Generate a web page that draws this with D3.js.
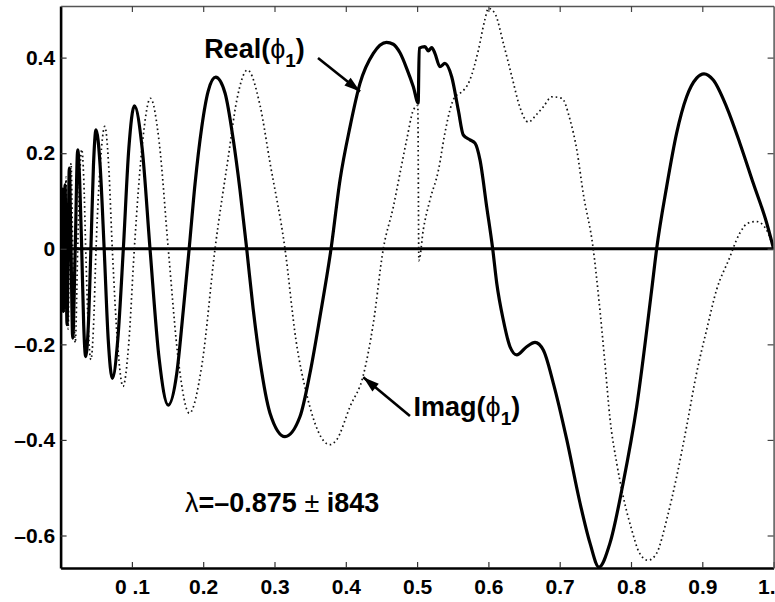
<!DOCTYPE html>
<html><head><meta charset="utf-8">
<script src="https://cdn.jsdelivr.net/npm/d3@7"></script>
<style>
body{margin:0;background:#fff}
svg{display:block;background:#fff}
text{font-family:"Liberation Sans",Arial,Helvetica,sans-serif}
</style>
</head><body>
<svg id="chart" width="775" height="602"></svg>
<script>
// ---- data ----
const realX = [0.0000,0.0005,0.0009,0.0013,0.0018,0.0024,0.0031,0.0038,0.0050,0.0062,0.0076,0.0090,0.0106,0.0122,0.0146,0.0170,0.0205,0.0240,0.0268,0.0296,0.0324,0.0352,0.0389,0.0425,0.0461,0.0497,0.0554,0.0611,0.0668,0.0725,0.0802,0.0880,0.0957,0.1034,0.1144,0.1254,0.1382,0.1510,0.1630,0.1720,0.1803,0.1885,0.1980,0.2070,0.2175,0.2306,0.2422,0.2516,0.2610,0.2700,0.2797,0.2937,0.3147,0.3358,0.3498,0.3638,0.3793,0.3919,0.4059,0.4199,0.4386,0.4570,0.4666,0.4760,0.4860,0.4947,0.5015,0.5030,0.5110,0.5157,0.5205,0.5250,0.5320,0.5390,0.5485,0.5578,0.5648,0.5742,0.5812,0.5882,0.5976,0.6060,0.6117,0.6209,0.6303,0.6397,0.6537,0.6654,0.6770,0.6910,0.7100,0.7285,0.7425,0.7550,0.7705,0.7890,0.8080,0.8290,0.8360,0.8500,0.8640,0.8780,0.8920,0.9024,0.9154,0.9340,0.9527,0.9715,0.9903,1.0000];
const realY = [-0.04,0.11,0,-0.12,0,0.125,0,-0.131,0,0.134,0,-0.159,0,0.169,0,-0.187,0,0.207,0.14,0,-0.16,-0.2255,-0.16,0,0.175,0.249,0.175,0,-0.19,-0.271,-0.19,0,0.21,0.299,0.21,0,-0.23,-0.327,-0.26,-0.13,0,0.135,0.255,0.330,0.359,0.326,0.228,0.123,0,-0.125,-0.235,-0.344,-0.393,-0.351,-0.26,-0.142,0,0.144,0.255,0.346,0.409,0.432,0.428,0.41,0.375,0.339,0.305,0.42,0.423,0.414,0.421,0.409,0.381,0.388,0.36,0.29,0.238,0.228,0.221,0.186,0.088,0,-0.072,-0.149,-0.205,-0.222,-0.205,-0.196,-0.212,-0.281,-0.40,-0.532,-0.616,-0.666,-0.616,-0.49,-0.33,-0.086,0,0.13,0.242,0.318,0.357,0.366,0.353,0.297,0.221,0.137,0.054,0];

const imagX = [0.0000,0.0005,0.0009,0.0013,0.0018,0.0024,0.0031,0.0038,0.0050,0.0062,0.0076,0.0090,0.0106,0.0122,0.0146,0.0170,0.0205,0.0240,0.0268,0.0296,0.0324,0.0352,0.0388,0.0425,0.0461,0.0497,0.0558,0.0620,0.0672,0.0725,0.0800,0.0875,0.0955,0.1034,0.1147,0.1260,0.1385,0.1510,0.1657,0.1805,0.1985,0.2166,0.2350,0.2470,0.2620,0.2797,0.2937,0.3147,0.3300,0.3460,0.3775,0.3870,0.4060,0.4245,0.4386,0.4526,0.4667,0.4760,0.4854,0.4947,0.5010,0.5025,0.5087,0.5180,0.5300,0.5390,0.5460,0.5530,0.5600,0.5740,0.5860,0.5950,0.6000,0.6090,0.6210,0.6330,0.6440,0.6560,0.6670,0.6770,0.6890,0.7030,0.7145,0.7240,0.7330,0.7470,0.7545,0.7635,0.7705,0.7800,0.7890,0.8010,0.8120,0.8240,0.8360,0.8500,0.8640,0.8780,0.8920,0.9060,0.9200,0.9390,0.9430,0.9527,0.9645,0.9760,0.9900,1.0000];
const imagY = [0.02,0,0.10,0,-0.11,0,0.12,0,-0.135,0,0.15,0,-0.168,0,0.179,0,-0.197,0,0.15,0.208,0.15,0,-0.165,-0.232,-0.165,0,0.18,0.256,0.18,0,-0.20,-0.288,-0.20,0,0.22,0.315,0.22,0,-0.24,-0.344,-0.24,0,0.19,0.31,0.374,0.30,0.18,0,-0.19,-0.31,-0.41,-0.40,-0.33,-0.265,-0.156,0,0.088,0.158,0.228,0.29,0.30,-0.025,0.04,0.102,0.165,0.242,0.29,0.318,0.325,0.353,0.416,0.479,0.503,0.493,0.43,0.36,0.297,0.265,0.28,0.297,0.318,0.315,0.27,0.207,0.116,0,-0.10,-0.24,-0.355,-0.449,-0.518,-0.588,-0.637,-0.652,-0.637,-0.567,-0.477,-0.372,-0.26,-0.17,-0.086,-0.016,0,0.033,0.054,0.057,0.04,0];

const zeroLineX = [0, 1];
const xTicks = [0.1,0.2,0.3,0.4,0.5,0.6,0.7,0.8,0.9,1.0];
const xTickLabels = ["0 .1","0.2","0.3","0.4","0.5","0.6","0.7","0.8","0.9","1."];
const yTicks = [0.4,0.2,0,-0.2,-0.4,-0.6];
const yTickLabels = ["0.4","0.2","0","\u20130.2","\u20130.4","\u20130.6"];
const xDomain = [0, 1];
const yDomain = [-0.668, 0.508];

// annotation anchors (data coords)
const realLabel = {x:0.2013, y:0.3993};
const imagLabel = {x:0.4950, y:-0.350};
const lambdaLabel = {x:0.1745, y:-0.551};
const realArrow = [[0.361,0.399],[0.420,0.329]];
const imagArrow = [[0.490,-0.350],[0.4245,-0.269]];

// ---- drawing ----
const W = 775, H = 602;
const m = {left:60.6, right:1.4, top:6, bottom:34};
const svg = d3.select("#chart");
const x = d3.scaleLinear().domain(xDomain).range([m.left, W - m.right]);
const y = d3.scaleLinear().domain(yDomain).range([H - m.bottom, m.top]);

const defs = svg.append("defs");
defs.append("clipPath").attr("id","clip")
  .append("rect").attr("x", x(0)).attr("y", y(yDomain[1]))
  .attr("width", x(1)-x(0)).attr("height", y(yDomain[0]) - y(yDomain[1]));

defs.append("marker").attr("id","ah")
  .attr("markerUnits","userSpaceOnUse").attr("markerWidth",20).attr("markerHeight",14)
  .attr("viewBox","0 -7 18 14").attr("refX",16).attr("refY",0).attr("orient","auto")
  .append("path").attr("d","M0,-5L16,0L0,5Z").attr("fill","#000");

const g = svg.append("g").attr("clip-path","url(#clip)");

const line = d3.line().x(d => x(d[0])).y(d => y(d[1])).curve(d3.curveMonotoneX);

// zero line
g.append("path").datum(zeroLineX.map(v => [v, 0]))
  .attr("d", d3.line().x(d => x(d[0])).y(d => y(d[1])))
  .attr("stroke","#000").attr("stroke-width",2.8).attr("fill","none");

// imaginary part (dotted)
g.append("path").datum(imagX.map((v,i) => [v, imagY[i]]))
  .attr("d", line).attr("fill","none").attr("stroke","#111")
  .attr("stroke-width",1.7).attr("stroke-dasharray","1.6,3");

// real part (solid)
g.append("path").datum(realX.map((v,i) => [v, realY[i]]))
  .attr("d", line).attr("fill","none").attr("stroke","#000")
  .attr("stroke-width",3.2).attr("stroke-linejoin","round");

// axes
const fmtX = d => xTickLabels[xTicks.findIndex(t => Math.abs(t-d) < 1e-9)];
const fmtY = d => yTickLabels[yTicks.findIndex(t => Math.abs(t-d) < 1e-9)];

const ax = svg.append("g").attr("transform",`translate(0,${y(yDomain[0])})`)
  .call(d3.axisBottom(x).tickValues(xTicks).tickFormat(fmtX).tickSizeInner(-6).tickSizeOuter(0).tickPadding(11));
const ay = svg.append("g").attr("transform",`translate(${x(0)},0)`)
  .call(d3.axisLeft(y).tickValues(yTicks).tickFormat(fmtY).tickSizeInner(-6).tickSizeOuter(0).tickPadding(5.5));
const at = svg.append("g").attr("transform",`translate(0,${y(yDomain[1])})`)
  .call(d3.axisTop(x).tickValues(xTicks.slice(0,9)).tickFormat("").tickSizeInner(-6).tickSizeOuter(0));
const ar = svg.append("g").attr("transform",`translate(${x(1)},0)`)
  .call(d3.axisRight(y).tickValues(yTicks).tickFormat("").tickSizeInner(-6).tickSizeOuter(0));

[ax, ay].forEach(a => {
  a.select(".domain").attr("stroke","#000").attr("stroke-width",2.6);
  a.selectAll(".tick line").attr("stroke","#333").attr("stroke-width",1.2);
  a.selectAll("text").attr("font-size",21).attr("font-weight","bold").attr("fill","#000")
    .attr("font-family","'Liberation Sans',Arial,Helvetica,sans-serif");
});
// last x label sits at the window edge: keep it fully inside
ax.selectAll(".tick").filter(d => Math.abs(d - 1) < 1e-9).select("text")
  .attr("text-anchor","end").attr("x", W - x(1));
[at, ar].forEach(a => {
  a.select(".domain").attr("stroke","#555").attr("stroke-width",1.5);
  a.selectAll(".tick line").attr("stroke","#444").attr("stroke-width",1.2);
});

// annotations
function label(pos, main){
  const t = svg.append("text").attr("x", x(pos.x)).attr("y", y(pos.y))
    .attr("font-size",27).attr("font-weight","bold").attr("fill","#000");
  t.append("tspan").text(main + "(");
  t.append("tspan").attr("font-weight","normal").text("\u03D5");
  t.append("tspan").attr("font-size",19).attr("dy",9).text("1");
  t.append("tspan").attr("dy",-9).text(")");
}
label(realLabel, "Real");
label(imagLabel, "Imag");

const lt = svg.append("text").attr("x", x(lambdaLabel.x)).attr("y", y(lambdaLabel.y))
  .attr("font-size",27).attr("font-weight","bold").attr("fill","#000");
lt.append("tspan").attr("font-weight","normal").text("\u03BB");
lt.append("tspan").text("=\u20130.875 ");
lt.append("tspan").attr("font-weight","normal").text("\u00B1");
lt.append("tspan").text(" i843");

[realArrow, imagArrow].forEach(a => {
  svg.append("line").attr("x1", x(a[0][0])).attr("y1", y(a[0][1]))
    .attr("x2", x(a[1][0])).attr("y2", y(a[1][1]))
    .attr("stroke","#000").attr("stroke-width",2.6).attr("marker-end","url(#ah)");
});
</script>
</body></html>
